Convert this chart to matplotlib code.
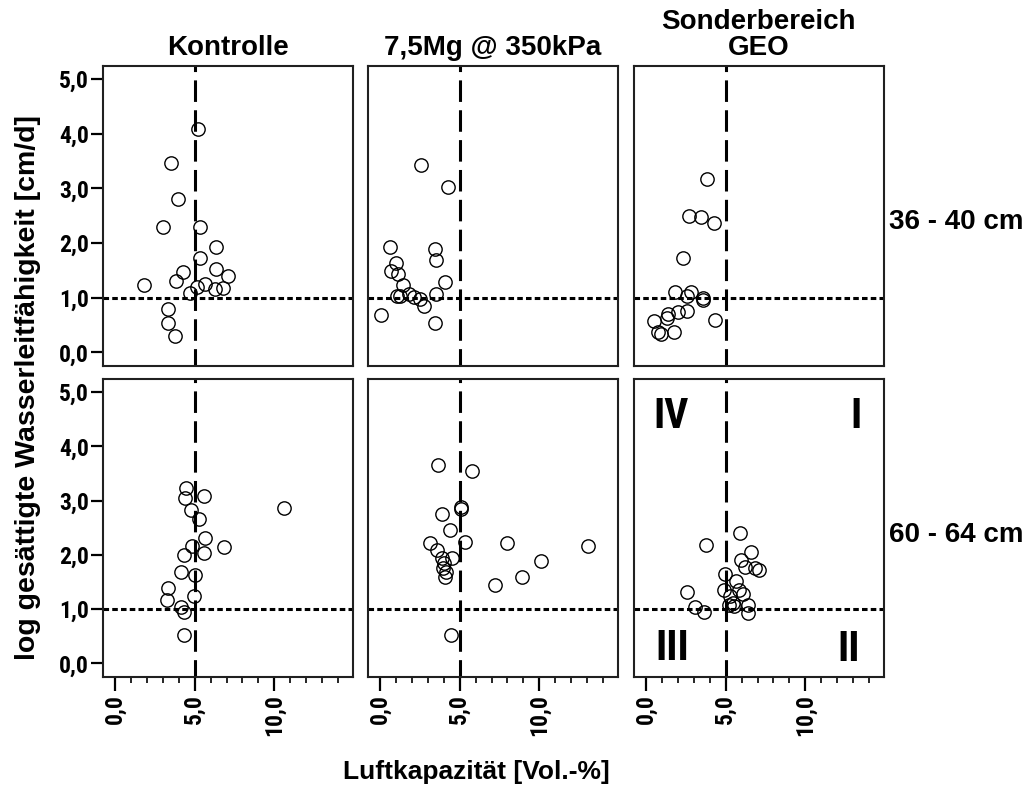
import matplotlib
matplotlib.use("Agg")
import matplotlib.pyplot as plt
from matplotlib import font_manager
from matplotlib.ticker import FixedLocator, MultipleLocator, FuncFormatter

plt.rcParams['lines.scale_dashes'] = False


def installed(names):
    have = {f.name for f in font_manager.fontManager.ttflist}
    return [n for n in names if n in have] + ['DejaVu Sans']


NARROW = installed(['Liberation Sans Narrow', 'Arial Narrow', 'DejaVu Sans Condensed',
                    'Roboto Condensed', 'Open Sans Condensed', 'Liberation Sans'])
WIDE = installed(['Liberation Sans'])

columns = ["Kontrolle", "7,5Mg @ 350kPa", "Sonderbereich\nGEO"]
rows = ["36 - 40 cm", "60 - 64 cm"]

# Luftkapazität [Vol.-%] and log gesättigte Wasserleitfähigkeit [cm/d]
kontrolle_36_lk = [5.18, 3.50, 3.94, 3.02, 5.35, 6.35, 5.35, 6.35, 4.26, 7.09,
                   3.84, 1.80, 5.66, 5.14, 6.29, 6.77, 4.72, 3.35, 3.35, 3.75]
kontrolle_36_ks = [4.08, 3.46, 2.80, 2.30, 2.30, 1.92, 1.73, 1.53, 1.47, 1.40,
                   1.31, 1.23, 1.25, 1.20, 1.16, 1.17, 1.08, 0.80, 0.54, 0.29]

verdichtet_36_lk = [2.55, 4.28, 0.63, 3.48, 3.54, 1.01, 0.70, 1.16, 4.05, 1.47,
                    3.54, 1.05, 1.27, 1.85, 2.11, 2.53, 2.74, 0.04, 3.48]
verdichtet_36_ks = [3.42, 3.02, 1.92, 1.90, 1.69, 1.64, 1.48, 1.44, 1.28, 1.23,
                    1.07, 1.03, 1.04, 1.06, 1.01, 0.98, 0.85, 0.68, 0.54]

geo_36_lk = [3.84, 2.70, 3.48, 4.25, 2.35, 1.82, 2.83, 3.56, 2.55, 2.60,
             2.03, 1.36, 1.30, 0.50, 4.34, 1.76, 0.92, 0.77, 3.60]
geo_36_ks = [3.17, 2.49, 2.47, 2.36, 1.73, 1.10, 1.10, 1.00, 1.03, 0.76,
             0.74, 0.71, 0.62, 0.58, 0.59, 0.37, 0.34, 0.38, 0.96]

kontrolle_60_lk = [4.44, 4.40, 5.60, 4.76, 5.30, 10.59, 5.66, 6.86, 4.82, 5.56,
                   4.34, 4.15, 4.99, 3.31, 3.25, 4.97, 4.15, 4.34, 4.34]
kontrolle_60_ks = [3.24, 3.05, 3.08, 2.83, 2.67, 2.86, 2.31, 2.15, 2.17, 2.03,
                   1.99, 1.69, 1.63, 1.39, 1.17, 1.25, 1.04, 0.95, 0.53]

verdichtet_60_lk = [3.67, 5.79, 5.07, 5.10, 3.92, 4.38, 3.14, 5.35, 7.99, 13.06,
                    3.56, 4.53, 3.88, 10.10, 4.04, 3.98, 4.15, 4.11, 8.91, 7.19, 4.44]
verdichtet_60_ks = [3.66, 3.54, 2.89, 2.85, 2.75, 2.45, 2.22, 2.24, 2.22, 2.16,
                    2.09, 1.95, 1.95, 1.89, 1.85, 1.76, 1.69, 1.60, 1.59, 1.44, 0.52]

geo_60_lk = [5.87, 3.75, 6.60, 5.97, 6.23, 6.86, 7.11, 4.97, 5.66, 4.88, 5.85,
             6.08, 5.28, 2.55, 5.43, 6.39, 3.08, 3.67, 6.39, 5.18, 5.50]
geo_60_ks = [2.41, 2.18, 2.06, 1.90, 1.77, 1.75, 1.72, 1.65, 1.51, 1.36, 1.36,
             1.27, 1.24, 1.32, 1.11, 1.08, 1.04, 0.94, 0.92, 1.08, 1.05]

panels = [
    [(kontrolle_36_lk, kontrolle_36_ks), (verdichtet_36_lk, verdichtet_36_ks), (geo_36_lk, geo_36_ks)],
    [(kontrolle_60_lk, kontrolle_60_ks), (verdichtet_60_lk, verdichtet_60_ks), (geo_60_lk, geo_60_ks)],
]

lk_grenze = 5.0   # Luftkapazität threshold
ks_grenze = 1.0   # log Ksat threshold

quadranten = ["IV", "I", "III", "II"]
quadrant_pos = [(1.6, 4.54), (13.2, 4.54), (1.65, 0.27), (12.7, 0.25)]

W, H = 1032, 793
fig = plt.figure(figsize=(W / 100, H / 100), dpi=100)


def px_box(left, top, width, height):
    return [left / W, 1 - (top + height) / H, width / W, height / H]


col_left = [103, 368, 634]
col_width = 249.5
row_top = [66, 379]
row_height = [300, 298]

fmt = FuncFormatter(lambda v, p: f"{v:.1f}".replace(".", ","))

axes = [[None] * 3 for _ in range(2)]
for r in range(2):
    for c in range(3):
        ax = fig.add_axes(px_box(col_left[c], row_top[r], col_width, row_height[r]))
        axes[r][c] = ax
        lk, ks = panels[r][c]
        ax.axvline(lk_grenze, color='black', lw=2.2, ls=(3, (15.5, 6.0)), zorder=1)
        ax.axhline(ks_grenze, color='black', lw=2.2, ls=(0, (4.0, 2.3)), zorder=1)
        ax.plot(lk, ks, ls='none', marker='o', ms=9.6, mfc='none', mec='black',
                mew=1.0, zorder=3)
        ax.set_xlim(-0.75, 14.9)
        ax.set_ylim(-0.25, 5.24)
        for s in ax.spines.values():
            s.set_linewidth(1.5)
            s.set_color('#202020')

        ax.xaxis.set_major_locator(FixedLocator([0, 5, 10]))
        ax.xaxis.set_minor_locator(FixedLocator(list(range(0, 15))))
        ax.yaxis.set_major_locator(MultipleLocator(1.0))
        ax.xaxis.set_major_formatter(fmt)
        ax.yaxis.set_major_formatter(fmt)
        ax.tick_params(axis='x', which='major', length=10, width=1.6, direction='out')
        ax.tick_params(axis='x', which='minor', length=4.5, width=1.2, direction='out')
        ax.tick_params(axis='y', which='major', length=8.5, width=1.6, direction='out', pad=1.5)

        if r == 1:
            ax.tick_params(axis='x', labelrotation=90, pad=2)
            for lab in ax.get_xticklabels():
                lab.set_family(NARROW)
                lab.set_fontweight('bold')
                lab.set_fontsize(17)
        else:
            ax.tick_params(axis='x', which='both', bottom=False, labelbottom=False)
        if c == 0:
            for lab in ax.get_yticklabels():
                lab.set_family(NARROW)
                lab.set_fontweight('bold')
                lab.set_fontsize(17)
        else:
            ax.tick_params(axis='y', which='both', left=False, labelleft=False)

# Quadrant labels in the GEO panel of the lower depth
for txt, (qx, qy) in zip(quadranten, quadrant_pos):
    axes[1][2].text(qx, qy, txt, ha='center', va='center', family=NARROW,
                    fontweight='bold', fontsize=30, zorder=4)

# Column headers
for c, title in enumerate(columns):
    cx = (col_left[c] + col_width / 2) / W
    fig.text(cx, 1 - 61 / H, title, ha='center', va='bottom', family=WIDE,
             fontweight='bold', fontsize=20, linespacing=1.0)

# Row labels
for r, (label, cy) in enumerate(zip(rows, [221.7, 535])):
    fig.text(889 / W, 1 - cy / H, label, ha='left', va='center', family=WIDE,
             fontweight='bold', fontsize=20)

fig.text(28 / W, 1 - 388 / H, "log gesättigte Wasserleitfähigkeit [cm/d]",
         rotation=90, ha='center', va='center', family=WIDE, fontweight='bold',
         fontsize=20.5)
fig.text(476 / W, 1 - 772 / H, "Luftkapazität [Vol.-%]", ha='center', va='center',
         family=WIDE, fontweight='bold', fontsize=19)

fig.savefig("out.png", dpi=100, facecolor='white')
